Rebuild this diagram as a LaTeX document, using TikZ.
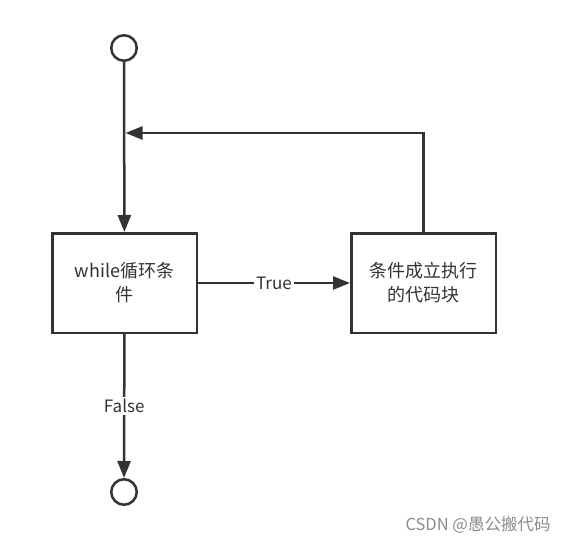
\documentclass[tikz,border=0pt]{standalone}
\usepackage{fontspec}
\setmainfont{Noto Sans CJK SC}
\usetikzlibrary{arrows.meta}
\definecolor{flowgray}{HTML}{333333}
\definecolor{markgray}{HTML}{8c8c8c}
\tikzstyle{terminal}=[circle, minimum size=25.5pt, inner sep=0pt, draw=flowgray, line width=2.5pt, fill=white]
\tikzstyle{block}=[rectangle, minimum width=144.5pt, minimum height=99.5pt, inner sep=0pt, draw=flowgray, line width=2.5pt, align=center, text=flowgray, font=\fontsize{18}{24}\selectfont]
\tikzstyle{flow}=[line width=2.5pt, draw=flowgray, -{Triangle[length=17pt, width=13pt]}]
\tikzstyle{guard}=[fill=white, inner sep=2pt, text=flowgray, font=\fontsize{17}{20}\selectfont]

\begin{document}
\begin{tikzpicture}[x=1pt, y=-1pt]

\useasboundingbox [fill=white] (0,0) rectangle (567,543);

\node [terminal] (start) at (124, 48) {};
\node [block] (loop) at (124.5, 283) {while循环条\\件};
\node [block] (body) at (423.5, 283) {条件成立执行\\的代码块};
\node [terminal] (stop) at (124, 492) {};
\coordinate (join) at (125.5, 133);

\node [markgray, font=\fontsize{16.5}{18}\selectfont] (mark) at (478, 525) {CSDN @愚公搬代码};

\draw [flow] (start) -- (loop);
\draw [flow] (loop) -- node [guard] {True} (body);
\draw [flow] (loop) -- node [guard] {False} (stop);
\draw [flow] (body.north) |- (join);

\end{tikzpicture}
\end{document}
